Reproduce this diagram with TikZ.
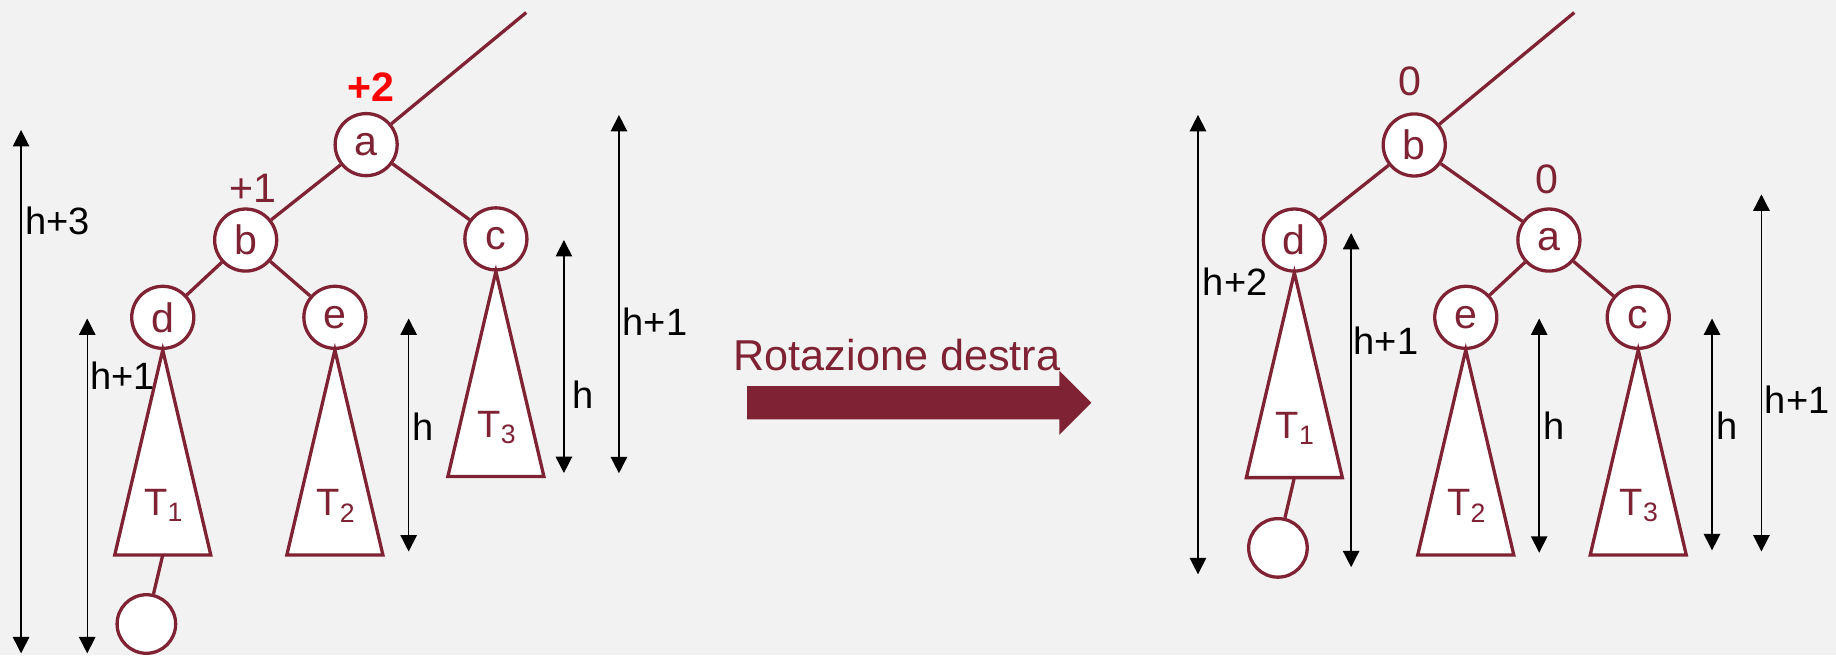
\documentclass[tikz,border=0pt]{standalone}
\usepackage{fontspec}
\setmainfont{Liberation Sans}
\usepackage{xcolor}
\usepackage{tikz}
\usetikzlibrary{arrows.meta}
\usetikzlibrary{positioning, shapes.arrows}
\definecolor{maroon}{RGB}{127,34,51}
\definecolor{bggray}{RGB}{242,242,242}
\tikzset{
key node/.style = { circle, draw = maroon, fill = white, line width = 1.6pt, minimum size = 10.6mm, inner sep = 0pt, text = maroon, font = \fontsize{20}{24}\selectfont },
leaf node/.style = { circle, draw = maroon, fill = white, line width = 1.6pt, minimum size = 10mm, inner sep = 0pt },
branch/.style = { draw = maroon, line width = 1.6pt },
height arrow/.style = { draw = black, line width = 0.7pt, {Triangle[width = 2.8mm, length = 2.8mm]}-{Triangle[width = 2.8mm, length = 2.8mm]} },
height label/.style = { black, inner sep = 0pt, font = \fontsize{18.5}{22}\selectfont },
balance/.style = { text = maroon, inner sep = 0pt, font = \fontsize{20}{24}\selectfont },
}
\tikzset{
pics/subtree/.style args={#1, #2}{
        code = {
        \path[draw = maroon, fill = #2, line width = 1.6pt] (0, 0) -- (-41, 175) -- (41, 175) -- cycle;
        \node[text = maroon, inner sep = 0pt, font = \fontsize{18.5}{22}\selectfont] (-label) at (1, 133) {#1};
        \coordinate (-base) at (0, 175);
        }
    }
}

\begin{document}
\begin{tikzpicture}[x = 0.2mm, y = -0.2mm]
    \path[fill = bggray] (0, 0) rectangle (1568, 559.4);
    \useasboundingbox (0, 0) rectangle (1568, 559.4);

    % before the rotation
    \coordinate (ltop) at (449.4, 10.7);
    \node[key node] (la) at (312.7, 123.5) {a};
    \node[key node] (lb) at (209.8, 205) {b};
    \node[key node] (lc) at (423.5, 204) {c};
    \node[key node] (ld) at (139, 271) {d};
    \node[key node] (le) at (286, 271) {e};
    \draw[branch] (la) -- (ltop);
    \draw[branch] (la) -- (lb);
    \draw[branch] (la) -- (lc);
    \draw[branch] (lb) -- (ld);
    \draw[branch] (lb) -- (le);
    \path (ld.south) pic (lT1) {subtree = {T\textsubscript{1}, white}};
    \path (le.south) pic (lT2) {subtree = {T\textsubscript{2}, white}};
    \path (lc.south) pic (lT3) {subtree = {T\textsubscript{3}, white}};
    \node[leaf node] (lleaf) at ([shift = {(-14, 59)}]lT1-base) {};
    \draw[branch] (lT1-base) -- (lleaf);
    \node[balance, text = red, font = \bfseries\fontsize{20}{24}\selectfont] (lbala) at (316.5, 74) {+2};
    \node[balance] (lbalb) at (216.3, 161) {+1};

    \coordinate (lh3top) at (18, 111);
    \coordinate (lh3bot) at (18, 558);
    \draw[height arrow] (lh3top) -- (lh3bot);
    \node[height label] (lh3) at (49, 189) {h+3};
    \coordinate (lh1top) at (74.5, 272);
    \coordinate (lh1bot) at (74.5, 558);
    \draw[height arrow] (lh1top) -- (lh1bot);
    \node[height label] (lh1) at (104.6, 321) {h+1};
    \coordinate (lhetop) at (349, 272);
    \coordinate (lhebot) at (349, 471);
    \draw[height arrow] (lhetop) -- (lhebot);
    \node[height label] (lhe) at (361, 364.5) {h};
    \coordinate (lhctop) at (481.6, 205);
    \coordinate (lhcbot) at (481.6, 404);
    \draw[height arrow] (lhctop) -- (lhcbot);
    \node[height label] (lhc) at (498, 337.3) {h};
    \coordinate (lhatop) at (528.6, 98.2);
    \coordinate (lhabot) at (528.6, 404.2);
    \draw[height arrow] (lhatop) -- (lhabot);
    \node[height label] (lha) at (559.3, 274.7) {h+1};

    % the rotation
    \node[single arrow, fill = maroon, draw = none, inner xsep = 0pt, inner ysep = 2.76mm, single arrow head extend = 2.64mm, single arrow tip angle = 90, minimum height = 58.8mm] (rot) at (778, 344) {};
    \node[text = maroon, anchor = base, inner sep = 0pt, font = \fontsize{21}{25}\selectfont] (rotlabel) at (766, 316.8) {Rotazione destra};

    % after the rotation
    \coordinate (rtop) at (1344.5, 10.7);
    \node[key node] (rb) at (1207.8, 123.8) {b};
    \node[key node] (rd) at (1105.4, 205) {d};
    \node[key node] (ra) at (1322.8, 205) {a};
    \node[key node] (re) at (1251.8, 271) {e};
    \node[key node] (rc) at (1399.1, 271) {c};
    \draw[branch] (rb) -- (rtop);
    \draw[branch] (rb) -- (rd);
    \draw[branch] (rb) -- (ra);
    \draw[branch] (ra) -- (re);
    \draw[branch] (ra) -- (rc);
    \path (rd.south) pic (rT1) {subtree = {T\textsubscript{1}, white}};
    \path (re.south) pic (rT2) {subtree = {T\textsubscript{2}, white}};
    \path (rc.south) pic (rT3) {subtree = {T\textsubscript{3}, white}};
    \node[leaf node] (rleaf) at ([shift = {(-14, 60)}]rT1-base) {};
    \draw[branch] (rT1-base) -- (rleaf);
    \node[balance] (rbalb) at (1204.3, 69.6) {0};
    \node[balance] (rbala) at (1321.2, 153.4) {0};

    \coordinate (rh2top) at (1023.1, 98.1);
    \coordinate (rh2bot) at (1023.1, 490.5);
    \draw[height arrow] (rh2top) -- (rh2bot);
    \node[height label] (rh2) at (1054.9, 240.8) {h+2};
    \coordinate (rh1top) at (1153.9, 199);
    \coordinate (rh1bot) at (1153.9, 484.4);
    \draw[height arrow] (rh1top) -- (rh1bot);
    \node[height label] (rh1) at (1183.7, 290.7) {h+1};
    \coordinate (rhetop) at (1314.5, 272);
    \coordinate (rhebot) at (1314.5, 472);
    \draw[height arrow] (rhetop) -- (rhebot);
    \node[height label] (rhe) at (1327.6, 363.8) {h};
    \coordinate (rhctop) at (1462.1, 272);
    \coordinate (rhcbot) at (1462.1, 470);
    \draw[height arrow] (rhctop) -- (rhcbot);
    \node[height label] (rhc) at (1475.2, 363.8) {h};
    \coordinate (rhatop) at (1504.3, 166);
    \coordinate (rhabot) at (1504.3, 471);
    \draw[height arrow] (rhatop) -- (rhabot);
    \node[height label] (rha) at (1534.9, 341.7) {h+1};
\end{tikzpicture}
\end{document}
